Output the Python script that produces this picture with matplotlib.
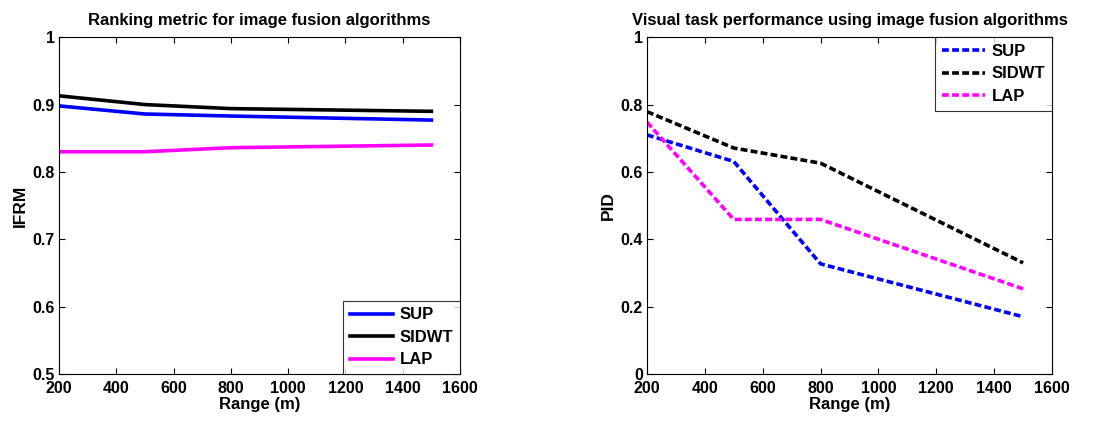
import matplotlib.pyplot as plt

plt.rcParams['font.family'] = ['Liberation Sans', 'DejaVu Sans']
plt.rcParams['font.weight'] = 'bold'

ranges = [200, 500, 800, 1500]
names = ['SUP', 'SIDWT', 'LAP']
colors = ['#0000ff', '#000000', '#ff00ff']

ifrm_sup = [0.898, 0.886, 0.883, 0.877]
ifrm_sidwt = [0.913, 0.900, 0.894, 0.890]
ifrm_lap = [0.830, 0.830, 0.836, 0.840]

pid_sup = [0.710, 0.631, 0.327, 0.170]
pid_sidwt = [0.779, 0.671, 0.626, 0.330]
pid_lap = [0.748, 0.459, 0.459, 0.253]

xticks = [200, 400, 600, 800, 1000, 1200, 1400, 1600]


def style_axes(ax):
    ax.set_xlim(200, 1600)
    ax.set_xticks(xticks)
    ax.tick_params(direction='in', top=True, right=True, labelsize=11.5,
                   length=4, width=0.8)
    ax.tick_params(axis='x', pad=5)
    ax.tick_params(axis='y', pad=3)
    for lab in ax.get_xticklabels() + ax.get_yticklabels():
        lab.set_fontweight('bold')
    for s in ax.spines.values():
        s.set_linewidth(0.8)
    ax.set_xlabel('Range (m)', fontsize=12, fontweight='bold', labelpad=1)


fig = plt.figure(figsize=(11.18, 4.21), dpi=100)

ax1 = fig.add_axes([0.0528, 0.1116, 0.3587, 0.800])
for vals, name, c in zip([ifrm_sup, ifrm_sidwt, ifrm_lap], names, colors):
    ax1.plot(ranges, vals, color=c, lw=2.6, label=name)
ax1.set_ylim(0.5, 1)
ax1.set_yticks([0.5, 0.6, 0.7, 0.8, 0.9, 1])
ax1.set_yticklabels(['0.5', '0.6', '0.7', '0.8', '0.9', '1'])
style_axes(ax1)
ax1.set_ylabel('IFRM', fontsize=12.5, fontweight='bold', labelpad=3)
ax1.set_title('Ranking metric for image fusion algorithms', fontsize=12,
              fontweight='bold', pad=9)
leg1 = ax1.legend(loc='lower right', fontsize=12, frameon=True, fancybox=False,
                  edgecolor='black', borderaxespad=0, handlelength=2.6,
                  handletextpad=0.4, labelspacing=0.45, borderpad=0.4)
leg1.get_frame().set_linewidth(0.8)

ax2 = fig.add_axes([0.5787, 0.1116, 0.3623, 0.800])
for vals, name, c in zip([pid_sup, pid_sidwt, pid_lap], names, colors):
    ax2.plot(ranges, vals, color=c, lw=2.6, ls=(0, (1.9, 0.9)), label=name)
ax2.set_ylim(0, 1)
ax2.set_yticks([0, 0.2, 0.4, 0.6, 0.8, 1])
ax2.set_yticklabels(['0', '0.2', '0.4', '0.6', '0.8', '1'])
style_axes(ax2)
ax2.set_ylabel('PID', fontsize=12.5, fontweight='bold', labelpad=3)
ax2.set_title('Visual task performance using image fusion algorithms',
              fontsize=12, fontweight='bold', pad=9)
leg2 = ax2.legend(loc='upper right', fontsize=12, frameon=True, fancybox=False,
                  edgecolor='black', borderaxespad=0, handlelength=2.6,
                  handletextpad=0.4, labelspacing=0.45, borderpad=0.4)
leg2.get_frame().set_linewidth(0.8)

fig.savefig('out.png', dpi=100)
